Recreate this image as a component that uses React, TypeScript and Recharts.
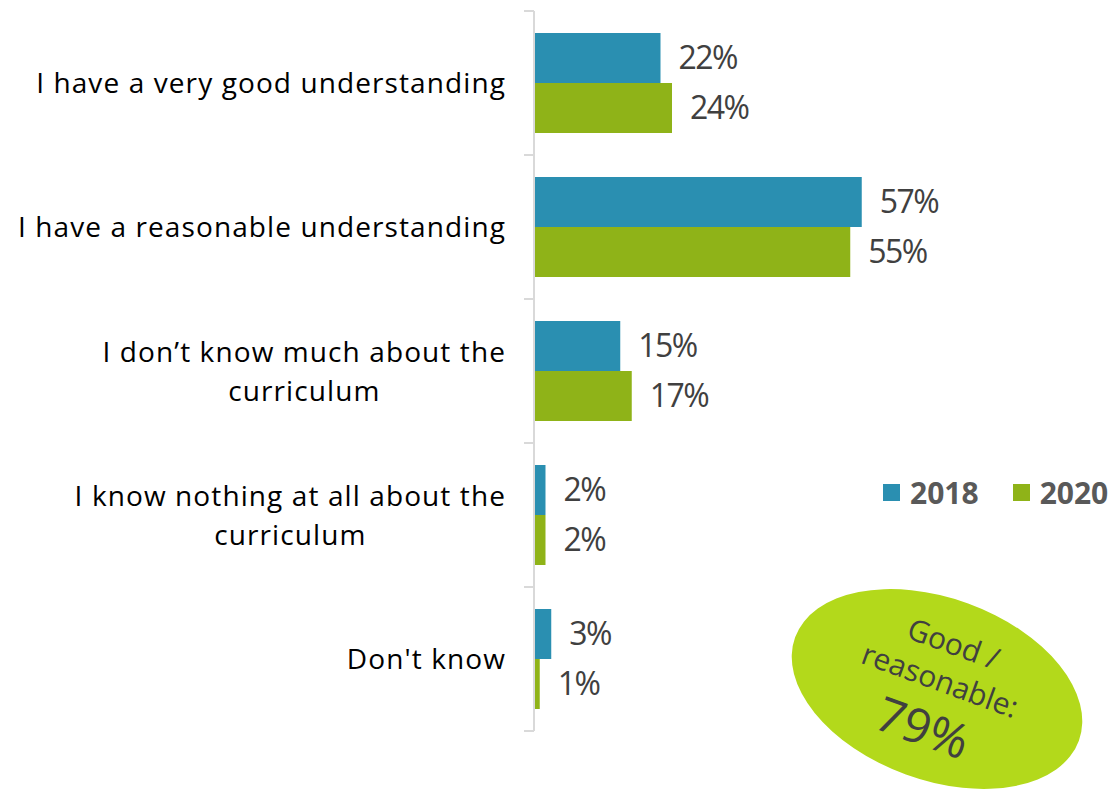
import React from "react";
import { BarChart, Bar, XAxis, YAxis, LabelList } from "recharts";

const categories = [
  "I have a very good understanding",
  "I have a reasonable understanding",
  "I don’t know much about the curriculum",
  "I know nothing at all about the curriculum",
  "Don't know",
];
const values2018 = [22, 57, 15, 2, 3];
const values2020 = [24, 55, 17, 2, 1];
const seriesNames = ["2018", "2020"];
const calloutLines = ["Good /", "reasonable:"];
const calloutValue = "79%";

const BLUE = "#2a8fb1";
const GREEN = "#8fb318";
const FONT = "'Open Sans', sans-serif";
const LABEL_SIZE = 28;
const LABEL_SPACING = 1.1;
const LABEL_FONT = `${LABEL_SIZE}px ${FONT}`;

const data = categories.map((name, i) => ({
  name,
  y2018: values2018[i],
  y2020: values2020[i],
}));

let ctx: CanvasRenderingContext2D | null = null;
function measure(text: string, font: string) {
  if (!ctx) ctx = document.createElement("canvas").getContext("2d");
  if (!ctx) return text.length * 15;
  ctx.font = font;
  return ctx.measureText(text).width + text.length * LABEL_SPACING;
}

// split long category names into lines no wider than maxWidth
function wrap(text: string, maxWidth: number, font: string) {
  const words = text.split(" ");
  const lines: string[] = [];
  let cur = "";
  for (const w of words) {
    const next = cur ? cur + " " + w : w;
    if (cur && measure(next, font) > maxWidth) {
      lines.push(cur);
      cur = w;
    } else cur = next;
  }
  if (cur) lines.push(cur);
  return lines;
}

function CategoryTick(props: any) {
  const { x, y, payload, index } = props;
  const half = payload?.offset || 72;
  const lines = wrap(String(payload.value), 520, LABEL_FONT);
  const block = Math.max(...lines.map((l) => measure(l, LABEL_FONT)));
  const cx = x + 1 - block / 2;
  const last = index === categories.length - 1;
  const lh = 39;
  return (
    <g>
      <line x1={x + 19} x2={x + 29} y1={y - half} y2={y - half} stroke="#d9d9d9" strokeWidth={2} />
      {last && (
        <line x1={x + 19} x2={x + 29} y1={y + half} y2={y + half} stroke="#d9d9d9" strokeWidth={2} />
      )}
      <text
        x={cx}
        y={y - 1 - ((lines.length - 1) * lh) / 2}
        textAnchor="middle"
        dominantBaseline="central"
        fontFamily={FONT}
        fontSize={LABEL_SIZE}
        letterSpacing={LABEL_SPACING}
        fill="#000"
      >
        {lines.map((l, i) => (
          <tspan key={i} x={cx} dy={i === 0 ? 0 : lh}>
            {l}
          </tspan>
        ))}
      </text>
    </g>
  );
}

const valueLabelStyle = {
  fill: "#404040",
  fontSize: 32,
  fontFamily: FONT,
  letterSpacing: -1.5,
};

function Callout() {
  return (
    <svg
      width={1117}
      height={792}
      style={{ position: "absolute", left: 0, top: 0, pointerEvents: "none" }}
    >
      <g transform="translate(937 689) rotate(20)">
        <ellipse cx={0} cy={0} rx={151} ry={91} fill="#b3d91b" />
        {calloutLines.map((t, i) => (
          <text
            key={t}
            x={0}
            y={-49 + i * 39}
            textAnchor="middle"
            dominantBaseline="central"
            fontFamily={FONT}
            fontSize={30}
            fill="#404040"
          >
            {t}
          </text>
        ))}
        <text
          x={0}
          y={40}
          textAnchor="middle"
          dominantBaseline="central"
          fontFamily={FONT}
          fontSize={48}
          fill="#404040"
        >
          {calloutValue}
        </text>
      </g>
    </svg>
  );
}

function Legend() {
  const colors = [BLUE, GREEN];
  return (
    <div
      style={{
        position: "absolute",
        left: 883,
        top: 472,
        display: "flex",
        alignItems: "center",
        gap: 34,
        fontFamily: FONT,
        fontWeight: 700,
        fontSize: 30,
        color: "#595959",
      }}
    >
      {seriesNames.map((s, i) => (
        <div key={s} style={{ display: "flex", alignItems: "center" }}>
          <span style={{ width: 17, height: 17, background: colors[i], display: "inline-block", marginRight: 10 }} />
          <span>{s}</span>
        </div>
      ))}
    </div>
  );
}

export default function App() {
  return (
    <div style={{ position: "absolute", left: 0, top: 0, width: 1117, height: 792, background: "#fff" }}>
      <BarChart
        width={1117}
        height={792}
        data={data}
        layout="vertical"
        margin={{ top: 11, right: 8, bottom: 61, left: 0 }}
        barGap={0}
      >
        <XAxis type="number" domain={[0, 100]} hide />
        <YAxis
          type="category"
          dataKey="name"
          width={534}
          axisLine={{ stroke: "#d9d9d9", strokeWidth: 2 }}
          tickLine={false}
          tickSize={10}
          tickMargin={19}
          tick={<CategoryTick />}
          interval={0}
        />
        <Bar dataKey="y2018" fill={BLUE} barSize={50} isAnimationActive={false}>
          <LabelList dataKey="y2018" position="right" offset={18} formatter={(v: any) => `${v}%`} style={valueLabelStyle} />
        </Bar>
        <Bar dataKey="y2020" fill={GREEN} barSize={50} isAnimationActive={false}>
          <LabelList dataKey="y2020" position="right" offset={18} formatter={(v: any) => `${v}%`} style={valueLabelStyle} />
        </Bar>
      </BarChart>
      <Legend />
      <Callout />
    </div>
  );
}
